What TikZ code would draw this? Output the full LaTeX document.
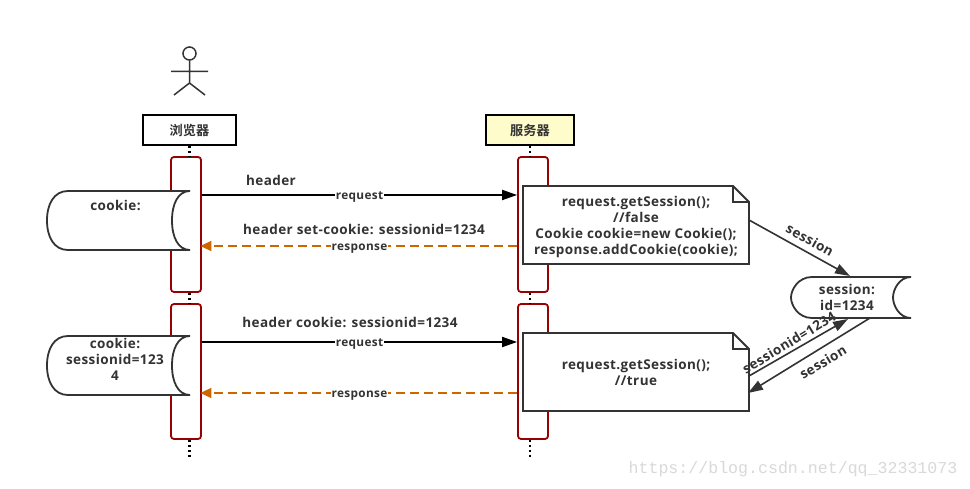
\documentclass[tikz,border=0pt]{standalone}
\usepackage{fontspec}
\setmainfont{Open Sans}[BoldFont={Open Sans Bold},LetterSpace=3]
\newfontfamily\cjkfont{Noto Sans CJK SC}[BoldFont={Noto Sans CJK SC Bold}]
\newfontfamily\wmfont{Liberation Mono}
\usetikzlibrary{arrows.meta,calc}
\definecolor{ink}{HTML}{333333}
\definecolor{actred}{HTML}{990000}
\definecolor{resp}{HTML}{CC6600}
\tikzset{
  txt/.style={font=\fontsize{13.5}{16}\selectfont\bfseries,text=ink,align=center,inner sep=0pt},
  msglabel/.style={font=\fontsize{11.8}{14}\selectfont\bfseries,text=ink,fill=white,inner sep=1pt,text height=11pt,text depth=2pt},
  headbox/.style={draw=black,line width=2pt,inner sep=0pt,font=\fontsize{13.2}{16}\selectfont\bfseries\cjkfont,text=ink},
  activ/.style={draw=actred,line width=1.8pt,rounded corners=3pt,fill=white,minimum width=30pt,inner sep=0pt},
  life/.style={black,line width=2.2pt,dash pattern=on 2pt off 3pt},
  reqarrow/.style={black,line width=1.8pt,-{Triangle[length=15pt,width=10pt]}},
  resparrow/.style={resp,line width=1.8pt,dash pattern=on 9pt off 5pt,shorten >=-1.5pt,-{Triangle[length=11pt,width=10pt,fill=resp]}},
  linkarrow/.style={ink,line width=1.6pt,-{Triangle[length=15pt,width=10pt]}},
  shapeline/.style={draw=ink,line width=1.8pt,fill=white},
  notebox/.style={minimum width=226pt,inner sep=0pt},
}
\newcommand{\cylshape}[4]{%
  \draw[shapeline] (#1+21,#3) .. controls (#1+7,#3) and (#1,#3+13) .. (#1,{(#3+#4)/2})
    .. controls (#1,#4-13) and (#1+7,#4) .. (#1+21,#4) -- (#2,#4)
    .. controls (#2-12,#4) and (#2-18,#4-13) .. (#2-18,{(#3+#4)/2})
    .. controls (#2-18,#3+13) and (#2-12,#3) .. (#2,#3) -- cycle;
  \draw[draw=white,line width=2.2pt] (#2,#3+1.2) -- (#2,#4-1.2);}
\newcommand{\noteshape}[3]{%
  \draw[shapeline] (#1,#2) -- (733,#2) -- (749,#2+16) -- (749,#3) -- (#1,#3) -- cycle;
  \draw[ink,line width=1.8pt] (733,#2) -- (733,#2+16) -- (749,#2+16);}
\begin{document}
\begin{tikzpicture}[x=1pt,y=-1pt]
\useasboundingbox (0,0) rectangle (970,489);
\fill[white] (0,0) rectangle (970,489);
% actor
\node[circle,draw=ink,line width=1.5pt,minimum size=13pt,inner sep=0pt] (head) at (189.5,53.5) {};
\coordinate (hip) at (189.5,83);
\coordinate (armL) at (171,71.5);
\coordinate (armR) at (208,71.5);
\coordinate (footL) at (174,95);
\coordinate (footR) at (205,95);
\draw[ink,line width=1.5pt] (head.south) -- (hip) (armL) -- (armR) (footL) -- (hip) -- (footR);
% heads
\node[headbox,minimum width=93pt,minimum height=30pt] (browser) at (189.5,130) {浏览器};
\node[headbox,fill=yellow!20,minimum width=88pt,minimum height=30pt] (server) at (530,130) {服务器};
% activations
\node[activ,minimum height=135pt] (a1) at (186,224.5) {};
\node[activ,minimum height=135pt] (a2) at (186,371.5) {};
\node[activ,minimum height=135pt] (s1) at (533,224.5) {};
\node[activ,minimum height=135pt] (s2) at (533,371.5) {};
% lifelines
\coordinate (aend) at (189.5,457);
\coordinate (send) at (530,457);
\draw[life] (browser.south) -- (browser.south |- a1.north);
\draw[life] (browser.south |- a1.south) -- (browser.south |- a2.north);
\draw[life] (browser.south |- a2.south) -- (aend);
\draw[life] (server.south) -- (server.south |- s1.north);
\draw[life] (server.south |- s1.south) -- (server.south |- s2.north);
\draw[life] (server.south |- s2.south) -- (send);
% cylinders
\cylshape{47}{190}{191}{250}
\cylshape{47}{190}{336}{395}
\cylshape{791}{911}{277}{318}
\node[txt] (c1) at (115.5,205) {cookie:};
\node[txt] (c2) at (115,359.5) {cookie:\\sessionid=123\\4};
\node[txt] (c3) at (847,297) {session:\\id=1234};
% messages
\draw[reqarrow] (a1.east |- 0,195) -- node[msglabel] {request} (s1.west |- 0,195);
\draw[resparrow] (s1.west |- 0,246) -- node[msglabel] {response} (a1.east |- 0,246);
\draw[reqarrow] (a2.east |- 0,342) -- node[msglabel] {request} (s2.west |- 0,342);
\draw[resparrow] (s2.west |- 0,393) -- node[msglabel] {response} (a2.east |- 0,393);
\node[txt] (h1) at (271,180.5) {header};
\node[txt] (h2) at (364,229.5) {header set-cookie: sessionid=1234};
\node[txt] (h3) at (350,322.5) {header cookie: sessionid=1234};
% notes
\noteshape{523}{186}{264}
\noteshape{523}{333}{411}
\node[txt,notebox] (n1) at (636,226.5) {request.getSession();\\//false\\Cookie cookie=new Cookie();\\response.addCookie(cookie);};
\node[txt,notebox] (n2) at (636,372) {request.getSession();\\//true};
% session links
\coordinate (n1out) at (749,220);
\coordinate (n2out) at (749,376);
\coordinate (n2in) at (748,393);
\coordinate (cylin) at (850,276);
\coordinate (cylbot) at (848,319);
\coordinate (cylout) at (870,318);
\draw[linkarrow] (n1out) -- (cylin);
\draw[linkarrow] (n2out) -- (cylbot);
\draw[linkarrow] (cylout) -- (n2in);
\node[txt,rotate=-29] (l1) at (810,240) {session};
\node[txt,rotate=31] (l2) at (789,342.5) {sessionid=1234};
\node[txt,rotate=31] (l3) at (823,362) {session};
% watermark
\node[font=\wmfont\fontsize{16.6}{18}\selectfont,text=black!15,inner sep=0pt] (wm) at (793,469) {https://blog.csdn.net/qq\_32331073};
\end{tikzpicture}
\end{document}
